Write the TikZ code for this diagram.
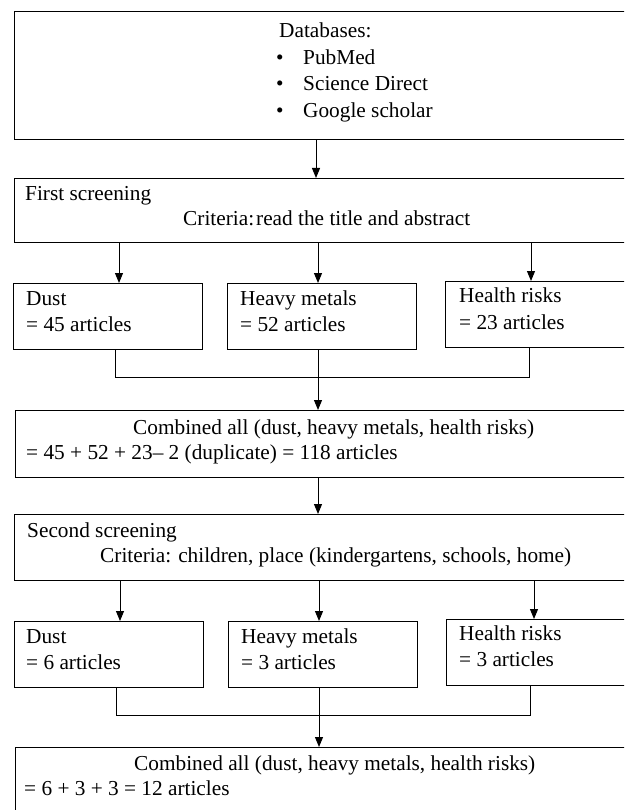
\documentclass[tikz,border=0pt]{standalone}
\usepackage{fontspec}
\setmainfont{Liberation Serif}
\usetikzlibrary{arrows.meta}
\newcommand{\fsz}{\fontsize{21.3}{25}\selectfont}
\begin{document}
\begin{tikzpicture}[x=1pt,y=-1pt,
  box/.style={draw, line width=1.3pt, inner sep=0pt, anchor=north west},
  txt/.style={anchor=mid west, inner sep=0pt, font=\fsz},
  arr/.style={line width=1pt, -{Triangle[length=10pt,width=8pt]}},
  ln/.style={line width=0.9pt}]
\useasboundingbox (0,0) rectangle (624,810);
\clip (0,0) rectangle (624,810);

% boxes
\node[box, minimum width=620pt, minimum height=128pt] (db) at (14,11) {};
\node[box, minimum width=620pt, minimum height=64pt] (s1) at (14,178) {};
\node[box, minimum width=189pt, minimum height=66pt] (d1) at (13,283) {};
\node[box, minimum width=189pt, minimum height=66pt] (h1) at (227,283) {};
\node[box, minimum width=200pt, minimum height=66pt] (r1) at (445,281) {};
\node[box, minimum width=620pt, minimum height=67pt] (c1) at (15,410) {};
\node[box, minimum width=620pt, minimum height=66pt] (s2) at (14,514) {};
\node[box, minimum width=189pt, minimum height=66pt] (d2) at (14,621) {};
\node[box, minimum width=189pt, minimum height=66pt] (h2) at (228,621) {};
\node[box, minimum width=200pt, minimum height=66pt] (r2) at (446,619) {};
\node[box, minimum width=620pt, minimum height=80pt] (c2) at (15,747) {};

% texts
\node[txt] (dbt) at (279,35) {Databases:};
\node[txt] (bu1) at (276,62) {•};
\node[txt] (bu2) at (276,88) {•};
\node[txt] (bu3) at (276,115) {•};
\node[txt] (it1) at (303,62) {PubMed};
\node[txt] (it2) at (303,88) {Science Direct};
\node[txt] (it3) at (303,115) {Google scholar};

\node[txt] (s1a) at (25,198) {First screening};
\node[txt] (s1b) at (183,223) {Criteria:\hspace{2pt}read the title and abstract};

\node[txt] (d1a) at (26,303) {Dust};
\node[txt] (d1b) at (26,329) {= 45 articles};
\node[txt] (h1a) at (240,303) {Heavy metals};
\node[txt] (h1b) at (240,329) {= 52 articles};
\node[txt] (r1a) at (459,300) {Health risks};
\node[txt] (r1b) at (459,327) {= 23 articles};

\node[txt] (c1a) at (133,432) {Combined all (dust, heavy metals, health risks)};
\node[txt] (c1b) at (26,457) {= 45 + 52 + 23– 2 (duplicate) = 118 articles};

\node[txt] (s2a) at (27,535) {Second screening};
\node[txt] (s2b) at (100,560) {Criteria: children, place (kindergartens, schools, home)};

\node[txt] (d2a) at (26,641) {Dust};
\node[txt] (d2b) at (26,667) {= 6 articles};
\node[txt] (h2a) at (241,641) {Heavy metals};
\node[txt] (h2b) at (241,667) {= 3 articles};
\node[txt] (r2a) at (459,638) {Health risks};
\node[txt] (r2b) at (459,664) {= 3 articles};

\node[txt] (c2a) at (134,768) {Combined all (dust, heavy metals, health risks)};
\node[txt] (c2b) at (24,793) {= 6 + 3 + 3 = 12 articles};

% x positions of connectors
\coordinate (xa) at (316,0);
\coordinate (xb1) at (119,0);
\coordinate (xb2) at (318,0);
\coordinate (xb3) at (531,0);
\coordinate (xc1) at (120,0);
\coordinate (xc2) at (319,0);
\coordinate (xc3) at (534,0);
\coordinate (j1l) at (115,377);
\coordinate (j1r) at (529,377);
\coordinate (j2l) at (116,715);
\coordinate (j2r) at (530,715);

% connectors
\draw[arr] (db.south -| xa) -- (s1.north -| xa);
\draw[arr] (s1.south -| xb1) -- (d1.north -| xb1);
\draw[arr] (s1.south -| xb2) -- (h1.north -| xb2);
\draw[arr] (s1.south -| xb3) -- (r1.north -| xb3);
\draw[ln] (d1.south -| j1l) -- (j1l) -- (j1r) -- (r1.south -| j1r);
\draw[arr] (h1.south -| xb2) -- (c1.north -| xb2);
\draw[arr] (c1.south -| xb2) -- (s2.north -| xb2);
\draw[arr] (s2.south -| xc1) -- (d2.north -| xc1);
\draw[arr] (s2.south -| xc2) -- (h2.north -| xc2);
\draw[arr] (s2.south -| xc3) -- (r2.north -| xc3);
\draw[ln] (d2.south -| j2l) -- (j2l) -- (j2r) -- (r2.south -| j2r);
\draw[arr] (h2.south -| xc2) -- (c2.north -| xc2);
\end{tikzpicture}
\end{document}
